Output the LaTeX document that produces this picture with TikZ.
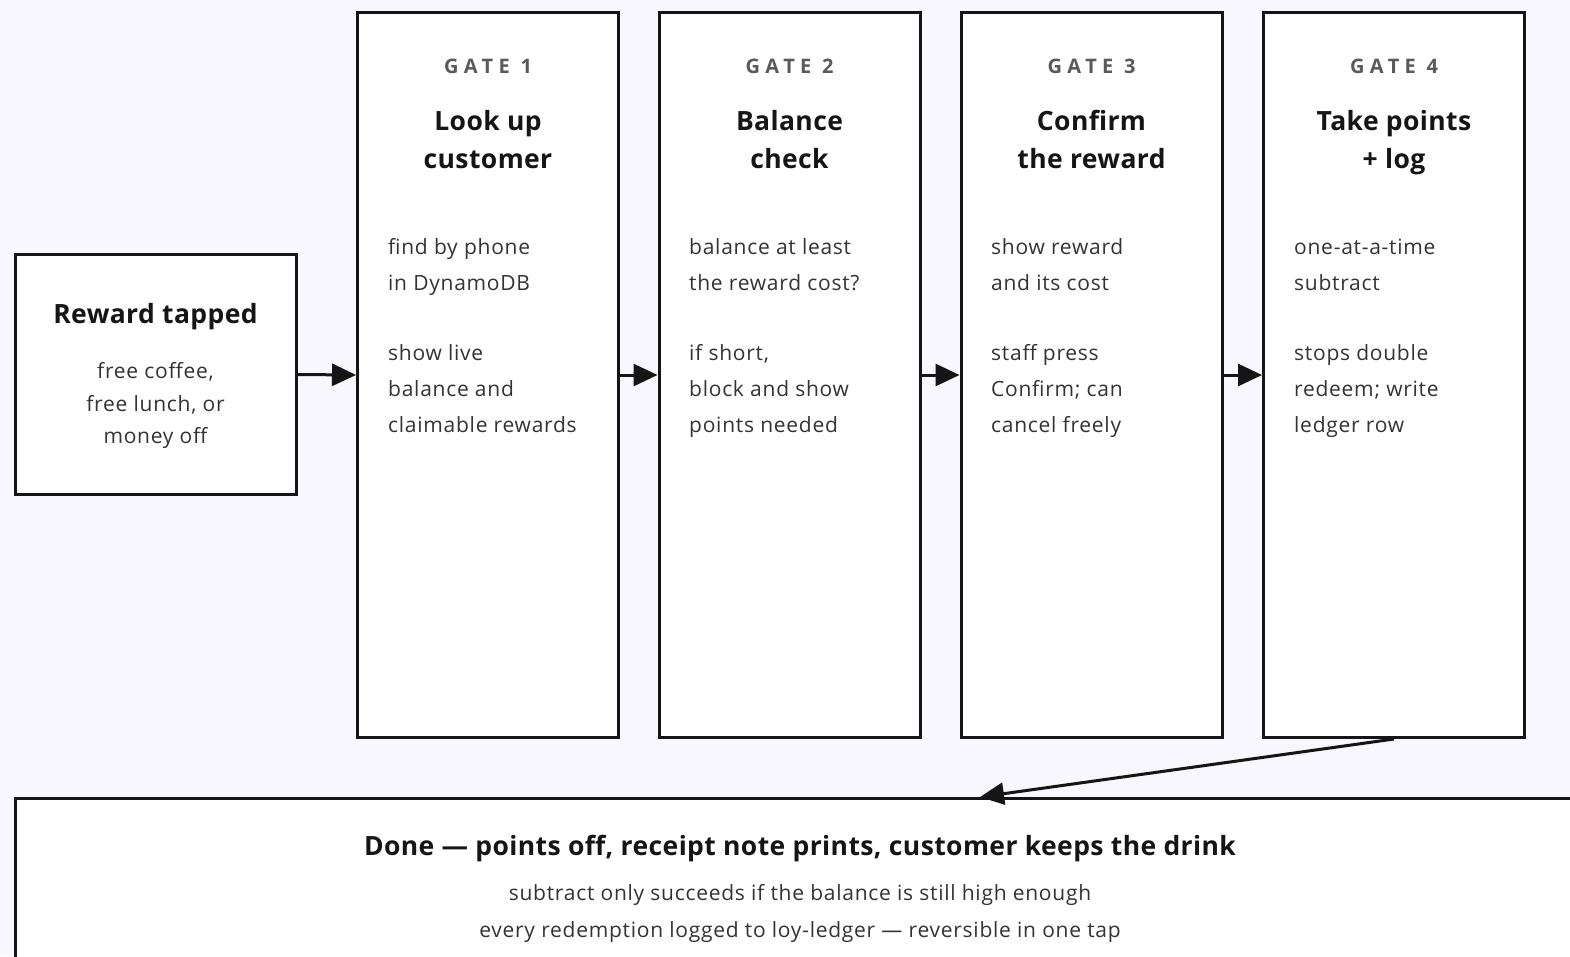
\documentclass[tikz,border=0pt]{standalone}
\usepackage{fontspec}
\setmainfont{Open Sans}
\usetikzlibrary{arrows.meta}
\definecolor{bg}{HTML}{F8F7FE}
\definecolor{ink}{HTML}{151515}
\definecolor{bodyc}{HTML}{333333}
\definecolor{labc}{HTML}{5A5A5A}
\tikzset{
  box/.style={draw=ink, line width=3pt, fill=white, inner sep=0pt},
  arr/.style={draw=ink, line width=3pt, -{Triangle[length=24pt,width=22pt]}},
  lab/.style={inner sep=0pt, anchor=base, text=labc, font=\fontsize{20}{24}\selectfont\bfseries\addfontfeature{LetterSpace=27}},
  ttl/.style={inner sep=0pt, anchor=base, text=ink, font=\fontsize{26.5}{30}\selectfont\bfseries\addfontfeature{LetterSpace=1.5}},
  bdy/.style={inner sep=0pt, anchor=base west, text=bodyc, font=\fontsize{21}{24}\selectfont\addfontfeature{LetterSpace=3.5}},
  cbdy/.style={inner sep=0pt, anchor=base, text=bodyc, font=\fontsize{21}{24}\selectfont\addfontfeature{LetterSpace=3.5}},
}
\begin{document}
\begin{tikzpicture}[x=1pt,y=-1pt]
\useasboundingbox (0,0) rectangle (1570,956);
\clip (0,0) rectangle (1570,956);
\fill[bg] (0,0) rectangle (1570,956);

% boxes
\node[box, minimum width=281pt, minimum height=240pt] (start) at (155.5,374.5) {};
\node[box, minimum width=261pt, minimum height=725pt] (g1) at (488,375) {};
\node[box, minimum width=261pt, minimum height=725pt] (g2) at (789.5,375) {};
\node[box, minimum width=261pt, minimum height=725pt] (g3) at (1091.5,375) {};
\node[box, minimum width=261pt, minimum height=725pt] (g4) at (1394,375) {};
\node[box, minimum width=1569pt, minimum height=300pt, anchor=north] (done) at (800,797) {};
\coordinate (dtop) at (980,797);

% start text
\node[ttl] (st) at (155.5,323) {Reward tapped};
\node[cbdy] (s1) at (155.5,378) {free coffee,};
\node[cbdy] (s2) at (155.5,411) {free lunch, or};
\node[cbdy] (s3) at (155.5,443) {money off};

% gate 1
\node[lab] (g1l) at (488,73) {GATE 1};
\node[ttl] (g1a) at (488,130) {Look up};
\node[ttl] (g1b) at (488,168) {customer};
\node[bdy] (g1p) at (388,254) {find by phone};
\node[bdy] (g1q) at (388,290) {in DynamoDB};
\node[bdy] (g1r) at (388,360) {show live};
\node[bdy] (g1s) at (388,396) {balance and};
\node[bdy] (g1t) at (388,432) {claimable rewards};

% gate 2
\node[lab] (g2l) at (789.5,73) {GATE 2};
\node[ttl] (g2a) at (789.5,130) {Balance};
\node[ttl] (g2b) at (789.5,168) {check};
\node[bdy] (g2p) at (689,254) {balance at least};
\node[bdy] (g2q) at (689,290) {the reward cost?};
\node[bdy] (g2r) at (689,360) {if short,};
\node[bdy] (g2s) at (689,396) {block and show};
\node[bdy] (g2t) at (689,432) {points needed};

% gate 3
\node[lab] (g3l) at (1091.5,73) {GATE 3};
\node[ttl] (g3a) at (1091.5,130) {Confirm};
\node[ttl] (g3b) at (1091.5,168) {the reward};
\node[bdy] (g3p) at (991,254) {show reward};
\node[bdy] (g3q) at (991,290) {and its cost};
\node[bdy] (g3r) at (991,360) {staff press};
\node[bdy] (g3s) at (991,396) {Confirm; can};
\node[bdy] (g3t) at (991,432) {cancel freely};

% gate 4
\node[lab] (g4l) at (1394,73) {GATE 4};
\node[ttl] (g4a) at (1394,130) {Take points};
\node[ttl] (g4b) at (1394,168) {+ log};
\node[bdy] (g4p) at (1294,254) {one-at-a-time};
\node[bdy] (g4q) at (1294,290) {subtract};
\node[bdy] (g4r) at (1294,360) {stops double};
\node[bdy] (g4s) at (1294,396) {redeem; write};
\node[bdy] (g4t) at (1294,432) {ledger row};

% done text
\node[ttl] (dt) at (800,855) {Done — points off, receipt note prints, customer keeps the drink};
\node[cbdy] (d1) at (800,900) {subtract only succeeds if the balance is still high enough};
\node[cbdy] (d2) at (800,937) {every redemption logged to loy-ledger — reversible in one tap};

% connectors
\draw[arr] (start.east) -- (g1.west);
\draw[arr] (g1.east) -- (g2.west);
\draw[arr] (g2.east) -- (g3.west);
\draw[arr] (g3.east) -- (g4.west);
\draw[arr] (g4.south) -- (dtop);
\end{tikzpicture}
\end{document}
